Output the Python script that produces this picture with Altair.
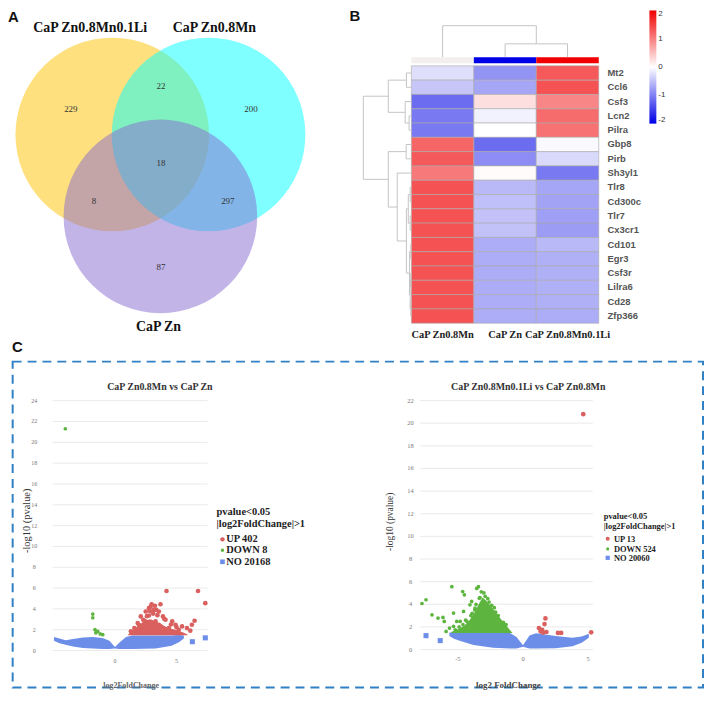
import altair as alt
import pandas as pd

SERIF = "Liberation Serif"
SANS = "Liberation Sans"

# ---------------- Panel A : Venn ----------------
venn_sets = ["CaP Zn0.8Mn0.1Li", "CaP Zn0.8Mn", "CaP Zn"]
venn_cx = [0.0, 1.0, 0.5]
venn_cy = [0.0, 0.0, -0.85]
venn_colors = ["#FDC100", "#00FFFF", "#8769D1"]
venn_title_x = [-0.23, 1.06, 0.48]
venn_title_y = [1.11, 1.11, -2.0]
venn_counts = ["229", "22", "200", "18", "8", "297", "87"]
venn_count_x = [-0.43, 0.505, 1.44, 0.505, -0.19, 1.2, 0.505]
venn_count_y = [0.26, 0.505, 0.26, -0.30, -0.69, -0.69, -1.38]

# ---------------- Panel B : heatmap ----------------
genes = ["Mt2", "Ccl6", "Csf3", "Lcn2", "Pilra", "Gbp8", "Pirb", "Sh3yl1", "Tlr8",
         "Cd300c", "Tlr7", "Cx3cr1", "Cd101", "Egr3", "Csf3r", "Lilra6", "Cd28", "Zfp366"]
groups = ["CaP Zn0.8Mn", "CaP Zn", "CaP Zn0.8Mn0.1Li"]
z_mn = [-0.25, -0.45, -1.15, -1.05, -1.05, 1.2, 1.3, 1.05, 1.35, 1.35, 1.35, 1.35, 1.35, 1.35, 1.35, 1.35, 1.35, 1.35]
z_zn = [-0.85, -0.7, 0.25, -0.1, 0.0, -1.15, -0.9, 0.03, -0.55, -0.5, -0.48, -0.48, -0.65, -0.65, -0.65, -0.65, -0.65, -0.65]
z_li = [1.3, 1.35, 0.95, 1.15, 1.1, -0.05, -0.3, -1.05, -0.7, -0.72, -0.75, -0.78, -0.55, -0.62, -0.62, -0.62, -0.62, -0.65]
group_bar_colors = ["#F3EFEF", "#0000E6", "#F00000"]
legend_ticks = [-2, -1, 0, 1, 2]

# row dendrogram merges (child a, child b, new node, height)
row_link_a = ["L0", "L3", "L2", "m", "L5", "L8", "L10", "a", "L12", "L14", "L16", "e", "d", "c", "L7", "k", "p"]
row_link_b = ["L1", "L4", "n", "o", "L6", "L9", "L11", "b", "L13", "L15", "L17", "f", "g", "h", "i", "j", "l"]
row_link_n = ["m", "n", "o", "p", "k", "a", "b", "c", "d", "e", "f", "g", "h", "i", "j", "l", "q"]
row_link_h = [0.08, 0.037, 0.10, 0.37, 0.084, 0.02, 0.02, 0.05, 0.01, 0.01, 0.01, 0.02, 0.03, 0.08, 0.227, 0.37, 0.77]
# column dendrogram merges
col_link_a = ["C1", "C0"]
col_link_b = ["C2", "n1"]
col_link_n = ["n1", "n2"]
col_link_h = [0.93, 2.2]

# ---------------- Panel C : volcano plots ----------------
v1_no_x = [-4.95, -4.5, -4.0, -3.4, -2.6, -1.8, -1.0, -0.45, 0.0, 0.35, 0.9, 1.4, 3.3, 4.6, 5.2, 5.6]
v1_no_hi = [1.3, 1.15, 1.0, 1.1, 1.25, 1.3, 1.2, 0.95, 0.35, 0.75, 1.3, 1.45, 1.45, 1.45, 1.5, 1.45]
v1_no_lo = [0.95, 0.7, 0.55, 0.4, 0.25, 0.2, 0.15, 0.15, 0.2, 0.15, 0.15, 0.15, 0.2, 0.45, 0.8, 1.15]
v1_upband_x = [1.0, 1.3, 1.7, 2.1, 2.5, 2.9, 3.3, 3.8, 4.3, 4.9, 5.5, 5.9]
v1_upband_hi = [1.45, 1.8, 2.2, 2.6, 2.9, 3.0, 2.8, 2.5, 2.2, 2.0, 1.75, 1.55]
v1_up_x = [4.19, 6.75, 7.34, 2.98, 3.7, 3.17, 2.5, 2.1, 2.76, 3.57, 3.9, 4.11, 3.3, 4.65, 4.92, 5.45,
           5.85, 6.25, 6.47, 6.12, 5.18, 4.38, 1.85, 1.58, 1.3, 2.26, 3.04, 3.7, 2.45, 2.76, 3.36, 3.57,
           2.9, 3.1, 2.6, 3.45, 2.3, 4.0, 1.95, 4.55, 5.0, 2.85, 3.25]
v1_up_y = [5.72, 5.72, 4.55, 4.45, 4.45, 3.9, 3.75, 3.28, 3.37, 3.75, 3.28, 2.96, 2.8, 2.8, 2.48, 2.32,
           2.16, 2.48, 2.86, 1.91, 1.98, 2.16, 2.64, 2.16, 1.85, 2.16, 2.16, 2.32, 2.8, 4.07, 3.9, 2.48,
           4.2, 3.55, 3.3, 3.4, 2.95, 3.05, 2.45, 2.5, 2.25, 3.8, 4.3]
v1_down_x = [-4.03, -1.8, -1.8, -1.62, -1.55, -1.4, -1.2, -0.99]
v1_down_y = [21.3, 3.5, 3.15, 2.0, 1.7, 1.85, 1.6, 1.52]
v1_ns_x = [6.29, 7.34]
v1_ns_y = [0.85, 1.22]
v1_yticks = [0, 2, 4, 6, 8, 10, 12, 14, 16, 18, 20, 22, 24]
v1_xticks = [0, 5]
v1_legend = ["UP 402", "DOWN 8", "NO 20168"]

v2_no_x = [-5.65, -5.3, -4.8, -3.8, -2.3, -1.0, -0.5, 0.0, 0.5, 1.0, 2.5, 3.8, 4.5, 5.05]
v2_no_hi = [1.5, 1.5, 1.47, 1.47, 1.47, 1.47, 1.1, 0.38, 1.25, 1.45, 1.2, 1.05, 1.15, 1.4]
v2_no_lo = [1.2, 0.95, 0.75, 0.4, 0.15, 0.1, 0.1, 0.25, 0.1, 0.1, 0.12, 0.3, 0.6, 1.05]
v2_downband_x = [-5.5, -5.0, -4.5, -4.1, -3.7, -3.4, -3.1, -2.8, -2.3, -1.7, -1.2, -0.8]
v2_downband_hi = [1.55, 1.8, 2.1, 2.6, 3.3, 4.0, 4.6, 4.3, 3.6, 2.7, 2.0, 1.47]
v2_down_x = [-7.75, -7.44, -6.98, -6.52, -6.14, -6.04, -5.46, -5.33, -5.64, -5.9, -5.08, -5.08, -4.63, -4.5,
             -4.3, -4.07, -3.94, -3.81, -4.18, -3.55, -3.42, -3.35, -3.68, -3.17, -4.56, -4.82, -5.33,
             -5.2, -4.9, -4.6, -4.4, -4.0, -3.7, -3.3, -3.2, -3.0, -2.9, -2.6, -2.4, -2.1, -1.9,
             -1.5, -1.3, -3.9, -3.6, -2.7, -2.2]
v2_down_y = [4.07, 4.4, 3.07, 2.78, 2.84, 2.49, 5.56, 3.22, 1.9, 1.6, 2.49, 1.6, 5.13, 4.84,
             2.49, 3.95, 4.25, 2.78, 1.75, 5.4, 5.56, 4.54, 3.66, 3.95, 3.37, 2.49, 2.05,
             1.75, 2.0, 2.2, 2.6, 3.0, 3.5, 4.6, 5.1, 5.0, 4.7, 4.2, 3.9, 3.3, 3.0,
             2.4, 2.2, 3.2, 4.0, 4.5, 3.7]
v2_up_x = [4.62, 1.22, 1.35, 1.47, 1.65, 1.72, 1.8, 2.68, 2.93, 5.23, 1.55]
v2_up_y = [20.8, 1.9, 1.6, 1.75, 2.25, 2.75, 1.55, 1.47, 1.47, 1.52, 1.5]
v2_ns_x = [-7.44, -6.35]
v2_ns_y = [1.23, 0.79]
v2_yticks = [0, 2, 4, 6, 8, 10, 12, 14, 16, 18, 20, 22]
v2_xticks = [-5, 0, 5]
v2_legend = ["UP 13", "DOWN 524", "NO 20060"]

RED, GREEN, BLUE = "#D9605E", "#5DB53F", "#6C8EE8"
HEAT_RANGE = ["#0000E6", "#FFFFFF", "#F00000"]

one = pd.DataFrame({"k": [0]})


def txt(s, x, y, size=10, font=SERIF, weight="normal", color="#222", align="center", angle=0):
    return alt.Chart(one).mark_text(text=s, fontSize=size, font=font, fontWeight=weight, color=color,
                                    align=align, baseline="middle", angle=angle).encode(
        x=alt.value(x), y=alt.value(y))


def sym(x, y, shape, size, color):
    return alt.Chart(one).mark_point(filled=True, shape=shape, size=size, color=color, opacity=1).encode(
        x=alt.value(x), y=alt.value(y))


# ---------- Venn layer ----------
vx = alt.Scale(domain=[-1, 2], range=[8, 299], nice=False, zero=False)
vy = alt.Scale(domain=[-2, 1], range=[319, 28], nice=False, zero=False)
venn_df = pd.DataFrame({"set": venn_sets, "cx": venn_cx, "cy": venn_cy, "o": [0, 1, 2],
                        "tx": venn_title_x, "ty": venn_title_y})
circles = alt.Chart(venn_df).mark_circle(opacity=0.5, size=38025).encode(
    x=alt.X("cx:Q", scale=vx, axis=None), y=alt.Y("cy:Q", scale=vy, axis=None),
    color=alt.Color("set:N", scale=alt.Scale(domain=venn_sets, range=venn_colors), legend=None),
    order=alt.Order("o:Q"))
venn_titles = alt.Chart(venn_df).mark_text(fontSize=14, font=SERIF, fontWeight="bold", color="#111").encode(
    x=alt.X("tx:Q", scale=vx, axis=None), y=alt.Y("ty:Q", scale=vy, axis=None), text="set:N")
cnt_df = pd.DataFrame({"t": venn_counts, "x": venn_count_x, "y": venn_count_y})
venn_cnt = alt.Chart(cnt_df).mark_text(fontSize=9, font=SERIF, color="#333").encode(
    x=alt.X("x:Q", scale=vx, axis=None), y=alt.Y("y:Q", scale=vy, axis=None), text="t:N")
venn = alt.layer(circles, venn_cnt, venn_titles)

# ---------- Heatmap layer ----------
hx = alt.Scale(domain=[-1, 4], range=[343.4, 657.9], nice=False, zero=False)
hy = alt.Scale(domain=[-4, 19], range=[5.4, 336.6], nice=False, zero=False)
rows = []
for gi, g in enumerate(genes):
    for ci, vals in enumerate([z_mn, z_zn, z_li]):
        rows.append({"gene": g, "group": groups[ci], "c0": ci, "c1": ci + 1,
                     "r0": gi - 0.5, "r1": gi + 0.5, "z": vals[gi]})
cell_df = pd.DataFrame(rows)
cells = alt.Chart(cell_df).mark_rect(stroke="#ABABAB", strokeWidth=0.6).encode(
    x=alt.X("c0:Q", scale=hx, axis=None), x2="c1:Q",
    y=alt.Y("r0:Q", scale=hy, axis=None), y2="r1:Q",
    color=alt.Color("z:Q", scale=alt.Scale(domain=[-2, 0, 2], range=HEAT_RANGE, interpolate="rgb"),
                    legend=alt.Legend(orient="none", legendX=646, legendY=0, direction="vertical",
                                      gradientLength=114, gradientThickness=7, title=None,
                                      values=legend_ticks, labelFontSize=8, labelFont=SANS,
                                      labelColor="#333", gradientStrokeWidth=0, labelOffset=2,
                                      labelExpr="'' + datum.value")))


def dendro(la, lb, ln, lh, leaf_pos):
    pos = dict(leaf_pos)
    hgt = {k: 0.0 for k in leaf_pos}
    segs = []
    for a, b, n, h in zip(la, lb, ln, lh):
        pa, pb = pos[a], pos[b]
        segs.append((hgt[a], h, pa, pa))
        segs.append((hgt[b], h, pb, pb))
        segs.append((h, h, pa, pb))
        pos[n] = (pa + pb) / 2
        hgt[n] = h
    return segs


row_segs = dendro(row_link_a, row_link_b, row_link_n, row_link_h, {f"L{i}": i for i in range(len(genes))})
row_seg_df = pd.DataFrame([{"x": -s[0], "x2": -s[1], "y": s[2], "y2": s[3]} for s in row_segs])
COL_BAR_TOP, COL_BAR_BOT = -1.11, -0.69
col_segs = dendro(col_link_a, col_link_b, col_link_n, col_link_h, {f"C{i}": i + 0.5 for i in range(3)})
col_seg_df = pd.DataFrame([{"x": s[2], "x2": s[3], "y": COL_BAR_TOP - s[0], "y2": COL_BAR_TOP - s[1]} for s in col_segs])
row_dend = alt.Chart(row_seg_df).mark_rule(color="#C4C4C4", strokeWidth=1).encode(
    x=alt.X("x:Q", scale=hx, axis=None), x2="x2:Q", y=alt.Y("y:Q", scale=hy, axis=None), y2="y2:Q")
col_dend = alt.Chart(col_seg_df).mark_rule(color="#C4C4C4", strokeWidth=1).encode(
    x=alt.X("x:Q", scale=hx, axis=None), x2="x2:Q", y=alt.Y("y:Q", scale=hy, axis=None), y2="y2:Q")
bar_df = pd.DataFrame({"group": groups, "c0": [0, 1, 2], "c1": [1, 2, 3],
                       "b0": COL_BAR_TOP, "b1": COL_BAR_BOT})
col_bar = alt.Chart(bar_df).mark_rect().encode(
    x=alt.X("c0:Q", scale=hx, axis=None), x2="c1:Q", y=alt.Y("b0:Q", scale=hy, axis=None), y2="b1:Q",
    color=alt.Color("group:N", scale=alt.Scale(domain=groups, range=group_bar_colors), legend=None))
lab_df = pd.DataFrame({"gene": genes, "r": list(range(len(genes))), "x": 3.14})
row_lab = alt.Chart(lab_df).mark_text(align="left", fontSize=9.5, font=SANS, fontWeight="bold", color="#555").encode(
    x=alt.X("x:Q", scale=hx, axis=None), y=alt.Y("r:Q", scale=hy, axis=None), text="gene:N")
glab_df = pd.DataFrame({"group": groups, "x": [0.5, 1.5, 2.5], "y": 18.3})
col_lab = alt.Chart(glab_df).mark_text(fontSize=10.5, font=SERIF, fontWeight="bold", color="#222").encode(
    x=alt.X("x:Q", scale=hx, axis=None), y=alt.Y("y:Q", scale=hy, axis=None), text="group:N")
heat = alt.layer(cells, col_bar, row_dend, col_dend, row_lab, col_lab).resolve_scale(color="independent")


# ---------- Volcano layers ----------
def volcano(xsc, ysc, gx0, gx1, yt, xt, no, band, band_color, up, down, ns, ylab_dx, xlab_dy, ylab_fs):
    X = lambda f: alt.X(f, scale=xsc, axis=None)
    Y = lambda f: alt.Y(f, scale=ysc, axis=None)
    grid = alt.Chart(pd.DataFrame({"y": yt, "x0": gx0, "x1": gx1})).mark_rule(
        color="#EAEAEA", strokeWidth=1).encode(x=X("x0:Q"), x2="x1:Q", y=Y("y:Q"))
    ylab = alt.Chart(pd.DataFrame({"y": yt, "x0": gx0, "t": [str(v) for v in yt]})).mark_text(
        fontSize=ylab_fs, font=SERIF, color="#777", dx=ylab_dx).encode(x=X("x0:Q"), y=Y("y:Q"), text="t:N")
    xlab = alt.Chart(pd.DataFrame({"x": xt, "y0": 0, "t": [str(v) for v in xt]})).mark_text(
        fontSize=ylab_fs, font=SERIF, color="#777", dy=xlab_dy).encode(x=X("x:Q"), y=Y("y0:Q"), text="t:N")
    no_area = alt.Chart(pd.DataFrame({"x": no[0], "hi": no[1], "lo": no[2]})).mark_area(
        color=BLUE, opacity=1).encode(x=X("x:Q"), y=Y("lo:Q"), y2="hi:Q")
    band_area = alt.Chart(pd.DataFrame({"x": band[0], "hi": band[1], "lo": 1.46})).mark_area(
        color=band_color, opacity=1).encode(x=X("x:Q"), y=Y("lo:Q"), y2="hi:Q")
    up_pts = alt.Chart(pd.DataFrame({"x": up[0], "y": up[1]})).mark_point(
        filled=True, shape="circle", size=22, color=RED, opacity=1).encode(x=X("x:Q"), y=Y("y:Q"))
    down_pts = alt.Chart(pd.DataFrame({"x": down[0], "y": down[1]})).mark_point(
        filled=True, shape="circle", size=14, color=GREEN, opacity=1).encode(x=X("x:Q"), y=Y("y:Q"))
    ns_pts = alt.Chart(pd.DataFrame({"x": ns[0], "y": ns[1]})).mark_point(
        filled=True, shape="square", size=26, color=BLUE, opacity=1).encode(x=X("x:Q"), y=Y("y:Q"))
    return alt.layer(grid, ylab, xlab, no_area, band_area, up_pts, down_pts, ns_pts)


v1x = alt.Scale(domain=[-10, 10], range=[-16.3, 231.7], nice=False, zero=False)
v1y = alt.Scale(domain=[0, 24], range=[644.7, 393.0], nice=False, zero=False)
v2x = alt.Scale(domain=[-10, 10], range=[387.4, 650.0], nice=False, zero=False)
v2y = alt.Scale(domain=[0, 22], range=[643.7, 392.9], nice=False, zero=False)

volc1 = volcano(v1x, v1y, -5.06, 7.52, v1_yticks, v1_xticks,
                (v1_no_x, v1_no_hi, v1_no_lo), (v1_upband_x, v1_upband_hi), RED,
                (v1_up_x, v1_up_y), (v1_down_x, v1_down_y), (v1_ns_x, v1_ns_y), -18.5, 10.6, 6)
volc2 = volcano(v2x, v2y, -7.9, 5.36, v2_yticks, v2_xticks,
                (v2_no_x, v2_no_hi, v2_no_lo), (v2_downband_x, v2_downband_hi), GREEN,
                (v2_up_x, v2_up_y), (v2_down_x, v2_down_y), (v2_ns_x, v2_ns_y), -9.5, 10, 6.5)

# ---------- annotations ----------
box = alt.Chart(one).mark_rect(filled=False, stroke="#2F80C4", strokeWidth=2, strokeDash=[9, 6]).encode(
    x=alt.value(4.7), x2=alt.value(700), y=alt.value(353.7), y2=alt.value(682))

ann = [
    txt("A", 0, 7, 15, SANS, "bold", "#111", "left"),
    txt("B", 344, 6, 15, SANS, "bold", "#111", "left"),
    txt("C", 4, 339, 15, SANS, "bold", "#111", "left"),
    box,
    txt("CaP Zn0.8Mn vs CaP Zn", 153, 379, 10, SERIF, "bold", "#333"),
    txt("CaP Zn0.8Mn0.1Li vs CaP Zn0.8Mn", 524, 379, 10, SERIF, "bold", "#333"),
    txt("-log10 (pvalue)", 19, 514, 10.5, SERIF, "normal", "#333", "center", 270),
    txt("-log10 (pvalue)", 385, 515, 9.5, SERIF, "normal", "#333", "center", 270),
    txt("log2FoldChange", 124, 680, 8, SERIF, "bold", "#666"),
    txt("log2 FoldChange", 504, 679, 9, SERIF, "bold", "#444"),
    txt("pvalue<0.05", 210, 504.7, 10.5, SERIF, "bold", "#222", "left"),
    txt("|log2FoldChange|>1", 210, 517, 10.5, SERIF, "bold", "#222", "left"),
    txt("pvalue<0.05", 600, 509, 8.5, SERIF, "bold", "#222", "left"),
    txt("|log2FoldChange|>1", 600, 519.3, 8.5, SERIF, "bold", "#222", "left"),
]
for lab, yy, shape, size, col in zip(v1_legend, [532.7, 543.7, 555.3], ["circle", "circle", "square"],
                                     [20, 12, 22], [RED, GREEN, BLUE]):
    ann.append(sym(216, yy, shape, size, col))
    ann.append(txt(lab, 219.7, yy, 10.5, SERIF, "bold", "#222", "left"))
for lab, yy, shape, size, col in zip(v2_legend, [532, 542.3, 551.3], ["circle", "circle", "square"],
                                     [16, 10, 18], [RED, GREEN, BLUE]):
    ann.append(sym(604, yy, shape, size, col))
    ann.append(txt(lab, 610.3, yy, 8.5, SERIF, "bold", "#222", "left"))

chart = alt.layer(venn, heat, volc1, volc2, *ann).resolve_scale(
    x="independent", y="independent", color="independent"
).properties(width=702, height=687, autosize=alt.AutoSizeParams(type="none"), padding=0
).configure_view(stroke=None)

chart.save("out.html", embed_options={"renderer": "svg", "actions": False})
